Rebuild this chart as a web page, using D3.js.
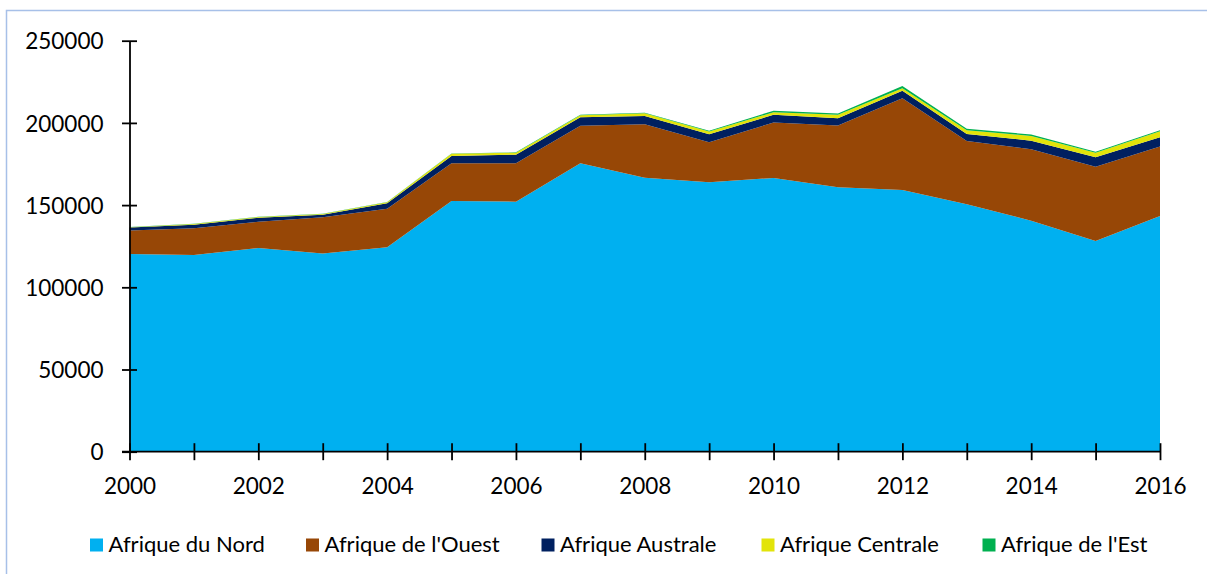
<!DOCTYPE html>
<html><head><meta charset="utf-8">
<script src="https://cdn.jsdelivr.net/npm/d3@7"></script>
<style>body{margin:0;background:#fff}svg{display:block}text{font-family:Lato,"Noto Sans",sans-serif;fill:#000}</style>
</head><body><svg id="c" width="1207" height="574"></svg>
<script>
const years = [2000,2001,2002,2003,2004,2005,2006,2007,2008,2009,2010,2011,2012,2013,2014,2015,2016];
const seriesNames = ["Afrique du Nord","Afrique de l'Ouest","Afrique Australe","Afrique Centrale","Afrique de l'Est"];
const colors = ["#00b0f0","#974706","#002060","#e2e40a","#00b050"];
const nord     = [120300,119700,123900,120500,124300,152500,152100,175500,166700,163900,166500,160900,159200,150500,140500,128200,143400];
const ouest    = [14200,16200,16000,22100,23500,23000,23400,22800,32500,24300,33700,37500,55800,38500,43500,45200,42200];
const australe = [1800,2200,2400,1500,3300,4400,5200,5100,5000,4900,4700,4500,4600,4300,5200,5700,5700];
const centrale = [300,400,500,500,600,1300,1200,1300,1600,1600,1650,2000,1500,2200,2900,2800,3600];
const est      = [100,100,100,150,150,200,200,300,400,600,800,800,1400,1000,800,600,600];
const yTicks = [0,50000,100000,150000,200000,250000];
const xLabelYears = [2000,2002,2004,2006,2008,2010,2012,2014,2016];

const rows = years.map((y,i)=>({year:y,
  "Afrique du Nord":nord[i],"Afrique de l'Ouest":ouest[i],"Afrique Australe":australe[i],
  "Afrique Centrale":centrale[i],"Afrique de l'Est":est[i]}));

const svg = d3.select("#c");
// outer frame
svg.append("rect").attr("x",6.5).attr("y",10.5).attr("width",1210).attr("height",600)
  .attr("fill","none").attr("stroke","#a7c0e8").attr("stroke-width",1.5);

const x = d3.scaleLinear().domain([2000,2016]).range([129.5,1160]);
const y = d3.scaleLinear().domain([0,250000]).range([451.7,40.7]);

const stack = d3.stack().keys(seriesNames)(rows);
const area = d3.area().x(d=>x(d.data.year)).y0(d=>y(d[0])).y1(d=>y(d[1]));
svg.append("g").selectAll("path").data(stack).join("path")
  .attr("d",area).attr("fill",(d,i)=>colors[i]);

// y axis
const yAxis = svg.append("g").attr("transform","translate(129.5,0)")
  .call(d3.axisLeft(y).tickValues(yTicks).tickFormat(d3.format("d")).tickSize(0).tickPadding(26));
yAxis.select(".domain").attr("stroke","#000").attr("stroke-width",1.8);
yAxis.selectAll(".tick line").remove();
yAxis.selectAll(".tick").append("line").attr("x1",-7.5).attr("x2",7.5).attr("stroke","#000").attr("stroke-width",1.8);
yAxis.selectAll("text").style("font-size","22.5px").attr("dy","0.36em").attr("fill","#000");

// x axis
const xAxis = svg.append("g").attr("transform","translate(0,451.7)")
  .call(d3.axisBottom(x).tickValues(years).tickSize(0).tickFormat(d=>xLabelYears.includes(d)?String(d):""));
xAxis.select(".domain").attr("stroke","#000").attr("stroke-width",1.8).attr("d","M122,0H1160");
xAxis.selectAll(".tick line").remove();
xAxis.selectAll(".tick").append("line").attr("y1",-8.5).attr("y2",8.5).attr("stroke","#000").attr("stroke-width",1.8);
xAxis.selectAll("text").style("font-size","22.5px").attr("y",42).attr("dy",0).attr("fill","#000");
svg.selectAll(".tick text").attr("font-family",null);

// legend
const legX = [90,306,541.5,761.5,982.5];
const leg = svg.append("g").selectAll("g").data(seriesNames).join("g")
  .attr("transform",(d,i)=>`translate(${legX[i]},0)`);
leg.append("rect").attr("x",0).attr("y",538.5).attr("width",13).attr("height",13).attr("fill",(d,i)=>colors[i]);
leg.append("text").attr("x",18.5).attr("y",551.5).style("font-size","22px").text(d=>d);
</script></body></html>
